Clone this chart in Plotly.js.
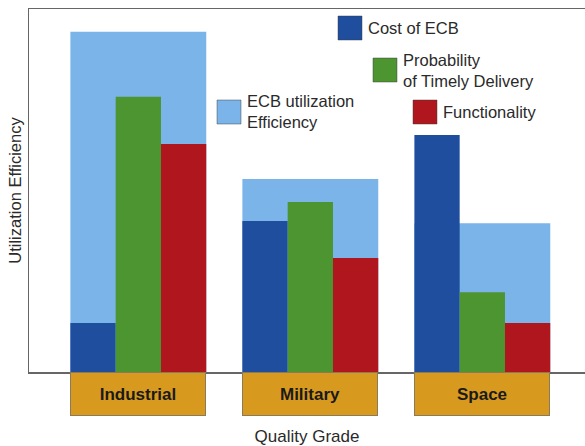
<!DOCTYPE html>
<html>
<head>
<meta charset="utf-8">
<script src="https://cdn.plot.ly/plotly-3.0.1.min.js"></script>
<style>
  html, body { margin: 0; padding: 0; background: #fff; }
  #chart { width: 585px; height: 446px; }
</style>
</head>
<body>
<div id="chart"></div>
<script>
// ---- data ----
const categories = ['Industrial', 'Military', 'Space'];
const ecbUtilization = [93.7, 53.2, 41.0];
const costOfECB = [13.5, 41.6, 65.3];
const timelyDelivery = [75.8, 46.8, 22.0];
const functionality = [62.8, 31.4, 13.5];
const seriesNames = ['ECB utilization<br>Efficiency', 'Cost of ECB', 'Probability<br>of Timely Delivery', 'Functionality'];
const xTitle = 'Quality Grade';
const yTitle = 'Utilization Efficiency';

// ---- styling ----
const colors = {
  light: '#7ab4e8',
  blue: '#1f4e9e',
  green: '#4c9530',
  red: '#b0161d',
  orange: '#d89a1e',
  text: '#2a2a2a',
  axis: '#666666'
};
const font = 'Liberation Sans, Arial, Helvetica, sans-serif';
const W = 0.79;       // group width (category units)
const w = W / 3;      // narrow bar width

const traces = [
  { type: 'bar', x: categories, y: ecbUtilization, name: seriesNames[0],
    width: W, offset: -W / 2, marker: { color: colors.light, line: { width: 0 } } },
  { type: 'bar', x: categories, y: costOfECB, name: seriesNames[1],
    width: w, offset: -W / 2, marker: { color: colors.blue, line: { width: 0 } } },
  { type: 'bar', x: categories, y: timelyDelivery, name: seriesNames[2],
    width: w, offset: -W / 2 + w, marker: { color: colors.green, line: { width: 0 } } },
  { type: 'bar', x: categories, y: functionality, name: seriesNames[3],
    width: w, offset: -W / 2 + 2 * w, marker: { color: colors.red, line: { width: 0 } } }
];

// plot area in pixels
const M = { l: 29, r: 0, t: 9, b: 74 };
const PW = 585 - M.l - M.r, PH = 446 - M.t - M.b;
const px = v => (v - M.l) / PW;
const py = v => (446 - M.b - v) / PH;

// custom legend entries (swatch position in px, label)
const legendItems = [
  { x: 217, y: 100, color: colors.light, label: seriesNames[0] },
  { x: 338, y: 16, color: colors.blue, label: seriesNames[1] },
  { x: 373, y: 58, color: colors.green, label: seriesNames[2] },
  { x: 413, y: 100, color: colors.red, label: seriesNames[3] }
];
const S = 24;

const shapes = legendItems.map(it => ({
  type: 'rect', xref: 'paper', yref: 'paper', layer: 'above',
  x0: px(it.x), x1: px(it.x + S), y0: py(it.y + S), y1: py(it.y),
  fillcolor: it.color, line: { color: 'rgba(60,60,60,0.45)', width: 1 }
}));

const annotations = legendItems.map(it => ({
  xref: 'paper', yref: 'paper', x: px(it.x + S + 4), y: py(it.y + S / 2),
  xanchor: 'left', yanchor: 'middle', align: 'left', showarrow: false,
  text: it.label, font: { family: font, size: 16.5, color: colors.text }
}));

categories.forEach(c => annotations.push({
  xref: 'x', yref: 'y', x: c, y: 0, yanchor: 'top', xanchor: 'center',
  showarrow: false, text: '<b>' + c + '</b>',
  width: 134, height: 42, borderpad: 0, borderwidth: 1,
  bgcolor: colors.orange, bordercolor: '#8a7a5a',
  font: { family: font, size: 17, color: '#1a1a1a' }
}));

const layout = {
  width: 585, height: 446,
  margin: M,
  paper_bgcolor: '#ffffff', plot_bgcolor: '#ffffff',
  barmode: 'overlay',
  showlegend: false,
  font: { family: font, color: colors.text },
  xaxis: {
    type: 'category', categoryorder: 'array', categoryarray: categories,
    range: [-0.6356, 2.597], fixedrange: true,
    showticklabels: false, ticks: '', showgrid: false, zeroline: false,
    showline: true, mirror: true, linecolor: colors.axis, linewidth: 1.5,
    title: { text: xTitle, font: { family: font, size: 17, color: colors.text }, standoff: 57 },
    automargin: false
  },
  yaxis: {
    range: [0, 100], fixedrange: true,
    showticklabels: false, ticks: '', showgrid: false, zeroline: false,
    showline: true, linecolor: colors.axis, linewidth: 1.5,
    title: { text: yTitle, font: { family: font, size: 16.5, color: colors.text }, standoff: 1 },
    automargin: false
  },
  shapes: shapes,
  annotations: annotations
};

Plotly.newPlot('chart', traces, layout, { displayModeBar: false, staticPlot: true });
</script>
</body>
</html>
